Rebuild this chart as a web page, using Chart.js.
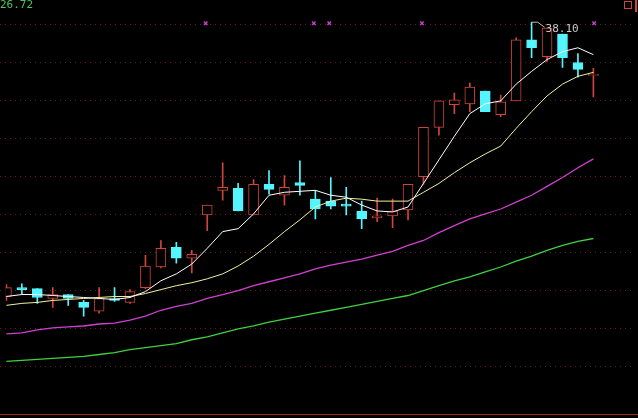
<!DOCTYPE html>
<html><head><meta charset="utf-8">
<script src="https://cdn.jsdelivr.net/npm/chart.js@4"></script>
<style>html,body{margin:0;padding:0;background:#000;}#w{width:638px;height:418px;}</style>
</head><body><div id="w"><canvas id="c"></canvas></div>
<script>
const opens  = [24.15,24.60,24.55,24.05,24.25,23.85,23.40,24.05,23.85,24.60,25.65,26.65,26.10,28.30,29.55,29.65,28.30,29.85,29.30,29.95,29.10,29.00,28.85,28.50,28.15,28.25,28.55,30.25,32.75,33.90,33.95,34.60,33.40,34.10,37.20,36.35,37.50,36.05,35.40];
const highs  = [24.75,24.80,24.55,24.60,24.25,23.95,24.60,24.60,24.50,26.25,27.00,26.90,26.50,28.80,30.95,29.90,30.10,30.55,30.30,31.05,29.55,30.20,29.70,29.00,29.15,29.10,29.85,32.75,34.10,34.50,35.00,34.60,34.40,37.30,38.10,37.80,37.50,36.50,35.75];
const lows   = [23.95,24.30,23.80,23.60,23.70,23.15,23.30,23.90,23.80,24.55,25.60,25.85,25.35,27.50,29.05,28.50,28.30,29.35,28.80,29.30,28.10,28.60,28.30,27.60,27.95,27.65,28.05,29.85,32.35,33.45,33.55,33.55,33.30,34.10,36.30,36.10,35.80,35.30,34.30];
const closes = [24.60,24.50,24.10,24.25,24.05,23.60,24.05,23.95,24.40,25.70,26.60,26.10,26.30,28.80,29.70,28.50,29.85,29.60,29.70,29.80,28.60,28.75,28.75,28.10,28.25,28.50,29.85,32.75,34.10,34.15,34.80,33.55,34.05,37.20,36.80,37.80,36.30,35.70,35.45];
const ma5  = [24.15,24.25,24.25,24.20,24.15,24.10,24.05,24.00,24.10,24.40,24.95,25.30,25.80,26.60,27.45,27.60,28.35,29.30,29.45,29.50,29.55,29.30,29.20,28.80,28.50,28.45,28.70,29.90,31.10,32.30,33.45,33.95,34.10,34.95,35.60,36.20,36.60,36.80,36.45];
const ma10 = [23.70,23.80,23.85,23.95,24.00,24.05,24.10,24.15,24.15,24.30,24.50,24.70,24.85,25.05,25.30,25.70,26.20,26.80,27.45,28.05,28.70,29.00,29.15,29.10,29.00,29.00,29.00,29.45,29.90,30.45,30.95,31.40,31.80,32.70,33.55,34.35,34.95,35.35,35.55];
const ma30 = [22.25,22.30,22.45,22.55,22.60,22.65,22.75,22.80,22.95,23.15,23.45,23.65,23.80,24.05,24.25,24.45,24.70,24.90,25.10,25.30,25.55,25.75,25.90,26.05,26.25,26.45,26.75,27.00,27.40,27.75,28.10,28.35,28.60,28.95,29.30,29.75,30.20,30.70,31.15];
const ma60 = [20.85,20.90,20.95,21.00,21.05,21.10,21.20,21.30,21.45,21.55,21.65,21.75,21.95,22.10,22.30,22.50,22.65,22.85,23.00,23.15,23.30,23.45,23.60,23.75,23.90,24.05,24.20,24.45,24.70,24.95,25.15,25.40,25.65,25.95,26.20,26.50,26.75,26.95,27.10];
const gridLevels = [38.00,36.07,34.14,32.21,30.28,28.35,26.42,24.49,22.56,20.63];
const markerX = [12.9,19.9,20.9,26.9,38.05];
const markerY = 38.05;
const topLabel = "26.72";
const peakLabel = "38.10";
const peakIndex = 34;

const RED = '#d0443c', CYAN = '#54f5ff';
const up = closes.map((c,i)=>c>=opens[i]);
const idx = opens.map((_,i)=>i);
const pts = a => a.map((v,i)=>({x:i,y:v}));

const overlay = {
  id:'overlay',
  beforeDatasetsDraw(ch){
    const {ctx, scales:{x,y}} = ch;
    ctx.save();
    ctx.strokeStyle = '#6a1c18'; ctx.lineWidth = 1; ctx.setLineDash([1,4]);
    gridLevels.forEach(v=>{const py=Math.round(y.getPixelForValue(v))+0.5;ctx.beginPath();ctx.moveTo(0,py);ctx.lineTo(632,py);ctx.stroke();});
    ctx.setLineDash([]);
    ctx.strokeStyle='#a02a24';ctx.beginPath();ctx.moveTo(0,414.5);ctx.lineTo(638,414.5);ctx.stroke();
    ctx.restore();
  },
  afterDraw(ch){
    const {ctx, scales:{x,y}} = ch;
    ctx.save();
    ctx.font = '11px "DejaVu Sans Mono", monospace';
    ctx.fillStyle = '#4fc35a'; ctx.textBaseline='top';
    ctx.fillText(topLabel, 0, 0);
    const hx = x.getPixelForValue(peakIndex), hy = y.getPixelForValue(highs[peakIndex]);
    ctx.strokeStyle='#bbbbbb'; ctx.lineWidth=1;
    ctx.beginPath();ctx.moveTo(hx,hy);ctx.lineTo(hx+6,hy);ctx.lineTo(hx+13,hy+5);ctx.stroke();
    ctx.fillStyle='#c8c8c8'; ctx.fillText(peakLabel, hx+14, hy+1);
    ctx.strokeStyle=RED; ctx.strokeRect(624.5,1.5,7,7);
    ctx.fillStyle=RED; ctx.fillRect(635,0,2,12);
    ctx.restore();
  }
};

new Chart(document.getElementById('c'), {
  type:'bar',
  data:{datasets:[
    {type:'line',data:pts(ma5),borderColor:'#ffffff',borderWidth:1,pointRadius:0,tension:0,order:1},
    {type:'line',data:pts(ma10),borderColor:'#f2f0a0',borderWidth:1,pointRadius:0,tension:0,order:1},
    {type:'line',data:pts(ma30),borderColor:'#d040d0',borderWidth:1.3,pointRadius:0,tension:0,order:1},
    {type:'line',data:pts(ma60),borderColor:'#40d040',borderWidth:1.3,pointRadius:0,tension:0,order:1},
    {type:'scatter',data:markerX.map(v=>({x:v,y:markerY})),pointStyle:'crossRot',pointRadius:2.5,borderColor:'#c040c0',borderWidth:1.5,order:0},
    {data:idx.map(i=>({x:i,y:[lows[i],highs[i]]})),backgroundColor:idx.map(i=>up[i]?RED:CYAN),barThickness:1,grouped:false,order:3},
    {data:idx.map(i=>({x:i,y:[opens[i],closes[i]]})),backgroundColor:idx.map(i=>up[i]?'#000':CYAN),borderColor:idx.map(i=>up[i]?RED:CYAN),borderWidth:1,borderSkipped:false,barThickness:10,grouped:false,order:2}
  ]},
  options:{
    responsive:true,maintainAspectRatio:false,animation:false,
    layout:{padding:{left:0,right:6,top:0,bottom:4}},
    plugins:{legend:{display:false},tooltip:{enabled:false}},
    scales:{
      x:{type:'linear',min:-0.06,max:40.5,offset:false,display:false},
      y:{min:18.25,max:38.95,display:false}
    }
  },
  plugins:[overlay]
});
</script></body></html>
